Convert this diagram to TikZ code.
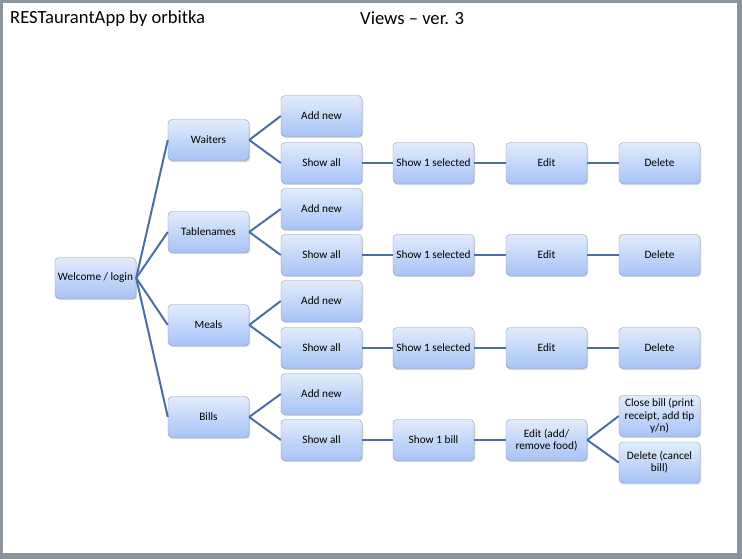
\documentclass[tikz,border=0pt]{standalone}
\usepackage{fontspec}
\setmainfont{Carlito}
\usetikzlibrary{shadows}
\definecolor{framegray}{HTML}{8B939D}
\definecolor{boxline}{HTML}{8A9BB3}
\definecolor{boxtop}{HTML}{E2ECFC}
\definecolor{boxbottom}{HTML}{A6C3F6}
\definecolor{linkblue}{HTML}{4A6FA5}
\tikzset{
  view/.style={draw=boxline,rounded corners=4bp,top color=boxtop,bottom color=boxbottom,
    minimum width=81bp,minimum height=41bp,inner sep=2bp,align=center,
    font=\fontsize{11.3bp}{12.3bp}\selectfont,
    drop shadow={shadow xshift=1bp,shadow yshift=-1.5bp,opacity=0.35}},
  link/.style={linkblue,line width=2bp},
}
\begin{document}
\begin{tikzpicture}[line join=bevel,]
%%
\fill [framegray] (0bp,0bp) rectangle (742bp,559bp);
\fill [white] (3bp,6bp) rectangle (737bp,556bp);
\useasboundingbox (0bp,0bp) rectangle (742bp,559bp);
\node (title) at (10bp,540.5bp) [anchor=west,inner sep=0pt,font=\fontsize{18.6bp}{21bp}\selectfont] {RESTaurantApp by orbitka};
\node (subtitle) at (360bp,540.5bp) [anchor=west,inner sep=0pt,font=\fontsize{18.6bp}{21bp}\selectfont] {Views – ver. 3};
%
\node (node_0) at (95.5bp,281bp) [view] {Welcome / login};
  \node (node_1) at (208.5bp,419bp) [view] {Waiters};
  \node (node_2) at (208.5bp,327bp) [view] {Tablenames};
  \node (node_3) at (208.5bp,234bp) [view] {Meals};
  \node (node_4) at (208.5bp,142bp) [view] {Bills};
%
  \node (node_5) at (321.5bp,443bp) [view] {Add new};
  \node (node_6) at (321.5bp,396bp) [view] {Show all};
  \node (node_7) at (321.5bp,350bp) [view] {Add new};
  \node (node_8) at (321.5bp,304bp) [view] {Show all};
  \node (node_9) at (321.5bp,258bp) [view] {Add new};
  \node (node_10) at (321.5bp,211bp) [view] {Show all};
  \node (node_11) at (321.5bp,165bp) [view] {Add new};
  \node (node_12) at (321.5bp,119bp) [view] {Show all};
%
  \node (node_13) at (433.5bp,396bp) [view] {Show 1 selected};
  \node (node_14) at (433.5bp,304bp) [view] {Show 1 selected};
  \node (node_15) at (433.5bp,211bp) [view] {Show 1 selected};
  \node (node_16) at (433.5bp,119bp) [view] {Show 1 bill};
%
  \node (node_17) at (546.5bp,396bp) [view] {Edit};
  \node (node_18) at (546.5bp,304bp) [view] {Edit};
  \node (node_19) at (546.5bp,211bp) [view] {Edit};
  \node (node_20) at (546.5bp,119bp) [view] {Edit (add/\\remove food)};
%
  \node (node_21) at (659.5bp,396bp) [view] {Delete};
  \node (node_22) at (659.5bp,304bp) [view] {Delete};
  \node (node_23) at (659.5bp,211bp) [view] {Delete};
  \node (node_24) at (659.5bp,143bp) [view] {Close bill (print\\receipt, add tip\\y/n)};
  \node (node_25) at (659.5bp,96.5bp) [view] {Delete (cancel\\bill)};
%
  \draw [link] (node_0.east) -- (node_1.west);
  \draw [link] (node_0.east) -- (node_2.west);
  \draw [link] (node_0.east) -- (node_3.west);
  \draw [link] (node_0.east) -- (node_4.west);
  \draw [link] (node_1.east) -- (node_5.west);
  \draw [link] (node_1.east) -- (node_6.west);
  \draw [link] (node_2.east) -- (node_7.west);
  \draw [link] (node_2.east) -- (node_8.west);
  \draw [link] (node_3.east) -- (node_9.west);
  \draw [link] (node_3.east) -- (node_10.west);
  \draw [link] (node_4.east) -- (node_11.west);
  \draw [link] (node_4.east) -- (node_12.west);
  \draw [link] (node_6) -- (node_13);
  \draw [link] (node_8) -- (node_14);
  \draw [link] (node_10) -- (node_15);
  \draw [link] (node_12) -- (node_16);
  \draw [link] (node_13) -- (node_17);
  \draw [link] (node_14) -- (node_18);
  \draw [link] (node_15) -- (node_19);
  \draw [link] (node_16) -- (node_20);
  \draw [link] (node_17) -- (node_21);
  \draw [link] (node_18) -- (node_22);
  \draw [link] (node_19) -- (node_23);
  \draw [link] (node_20.east) -- (node_24.west);
  \draw [link] (node_20.east) -- (node_25.west);
%
\end{tikzpicture}
\end{document}
